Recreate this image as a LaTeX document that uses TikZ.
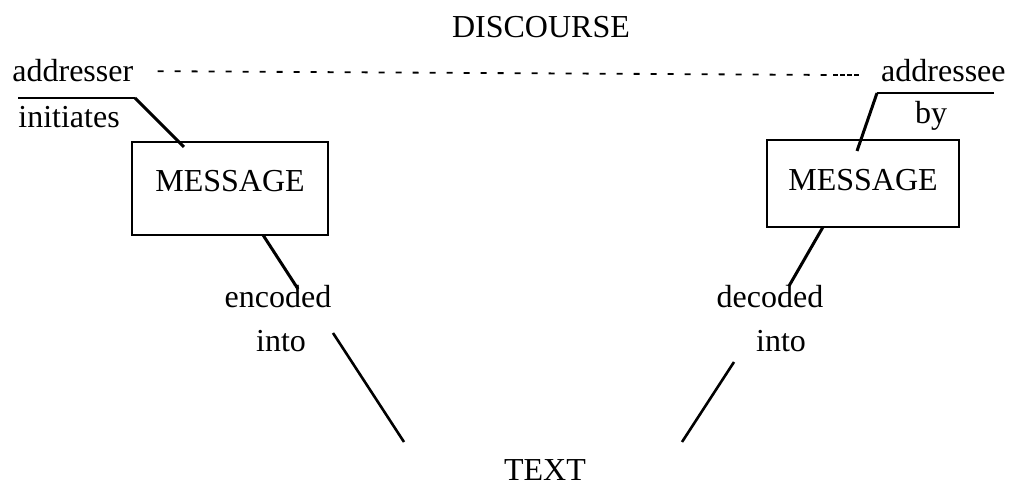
\documentclass[tikz,border=0pt]{standalone}
\usepackage{fontspec}
\setmainfont{Liberation Serif}
\usetikzlibrary{positioning}
\tikzset{
  every node/.style={font=\fontsize{16}{19}\selectfont,inner sep=0pt},
  word/.style={anchor=base},
  title/.style={anchor=base},
  msgbox/.style={draw,line width=1pt,anchor=base,inner sep=0pt},
  stroke/.style={line width=1pt},
  link/.style={line width=1.5pt},
  flow/.style={line width=1.3pt},
  dots/.style={line width=0.9pt,dash pattern=on 3pt off 5.5pt},
  densedots/.style={line width=0.9pt,dash pattern=on 2.5pt off 1pt}
}
\begin{document}
\begin{tikzpicture}[x=0.5pt,y=-0.5pt]
  \useasboundingbox (0,0) rectangle (1011,490);

  \node[title] (discourse) at (541,38) {DISCOURSE};
  \node[title] (text) at (545,481) {TEXT};

  \node[word,anchor=base west] (addresser) at (12,82) {addresser};
  \node[word,anchor=base west] (initiates) at (18,128) {initiates};
  \node[word,anchor=base east] (addressee) at (1006,82) {addressee};
  \node[word] (by) at (931,124) {by};

  \node[msgbox,minimum width=98pt,text height=25pt,text depth=21.5pt] (msgL) at (230,192) {MESSAGE};
  \node[msgbox,minimum width=96pt,text height=25.5pt,text depth=18pt] (msgR) at (863,191) {MESSAGE};

  \node[word] (encoded) at (278,308) {encoded};
  \node[word] (intoL) at (281,352) {into};
  \node[word] (decoded) at (770,308) {decoded};
  \node[word] (intoR) at (781,352) {into};

  \coordinate (dashend) at (833,75);
  \coordinate (sndA) at (18,98);
  \coordinate (sndK) at (135,98);
  \coordinate (sndM) at (184,147);
  \coordinate (rcvA) at (994,93);
  \coordinate (rcvK) at (877,93);
  \coordinate (rcvM) at (857,151);
  \coordinate (encA) at (263,235);
  \coordinate (encB) at (298,289);
  \coordinate (decA) at (823,227);
  \coordinate (decB) at (789,286);
  \coordinate (inL) at (333,333);
  \coordinate (inLB) at (404,442);
  \coordinate (inR) at (734,362);
  \coordinate (inRB) at (682,442);

  \draw[dots,shorten <=12pt] (addresser.east) -- (dashend);
  \draw[densedots,shorten >=10pt] (dashend) -- (addressee.west |- dashend);
  \draw[stroke] (sndA) -- (sndK);
  \draw[link] (sndK) -- (sndM);
  \draw[stroke] (rcvA) -- (rcvK);
  \draw[link] (rcvK) -- (rcvM);
  \draw[link] (encA) -- (encB);
  \draw[link] (decA) -- (decB);
  \draw[flow] (inL) -- (inLB);
  \draw[flow] (inR) -- (inRB);
\end{tikzpicture}
\end{document}
